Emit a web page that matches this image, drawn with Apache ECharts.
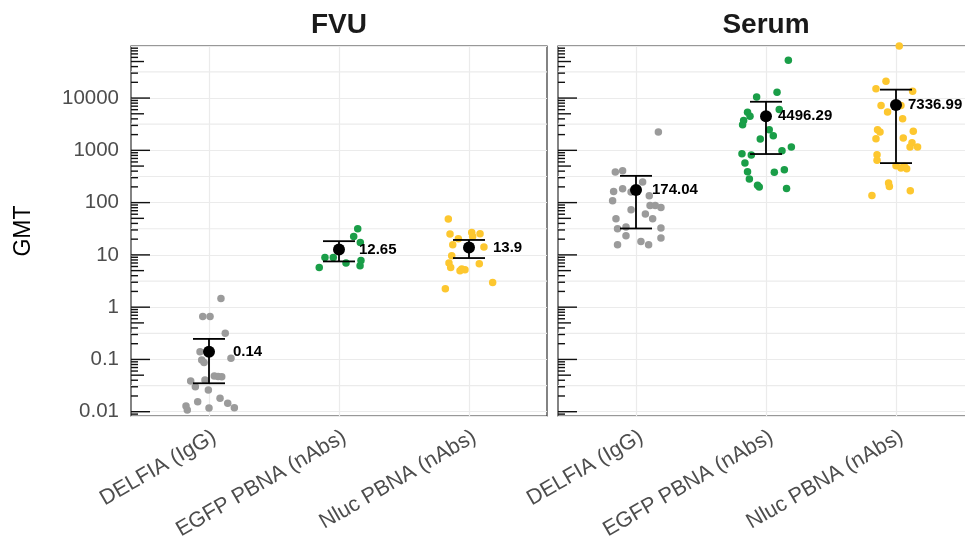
<!DOCTYPE html>
<html><head><meta charset="utf-8">
<script src="https://cdn.jsdelivr.net/npm/echarts@6/dist/echarts.min.js"></script>
<style>html,body{margin:0;padding:0;background:#fff}#c{width:965px;height:537px}</style>
</head><body><div id="c"></div>
<script>
// ---------- data ----------
const categories = ['DELFIA (IgG)', 'EGFP PBNA (nAbs)', 'Nluc PBNA (nAbs)'];
const panelNames = ['FVU', 'Serum'];
const yTickLabels = ['0.01', '0.1', '1', '10', '100', '1000', '10000'];

// FVU individual values and horizontal jitter (category units)
const fvuDelfia = [1.46,0.66,0.66,0.318,0.141,0.098,0.087,0.105,0.0387,0.0405,0.0483,0.0468,0.047,0.0301,0.0261,0.0181,0.0155,0.0129,0.0108,0.0118,0.0145,0.0119];
const fvuDelfiaJitter = [0.092,-0.048,0.008,0.125,-0.069,-0.056,-0.038,0.169,-0.141,-0.031,0.041,0.098,0.07,-0.105,-0.005,0.085,-0.087,-0.177,-0.167,0,0.144,0.195];
const fvuEgfp = [31.6,22.5,17.3,8.9,8.9,6.97,7.8,6.18,5.74];
const fvuEgfpJitter = [0.144,0.113,0.164,-0.108,-0.044,0.054,0.169,0.162,-0.152];
const fvuNluc = [48.5,25.0,20.3,26.9,25.4,22.5,15.6,14.1,9.6,6.97,5.74,4.96,5.18,5.35,6.76,2.96,2.24];
const fvuNlucJitter = [-0.159,-0.146,-0.082,0.021,0.085,0.028,-0.125,0.115,-0.133,-0.154,-0.141,-0.069,-0.031,-0.056,0.079,0.182,-0.182];

// Serum individual values and jitter
const serumDelfia = [2250,386,408,248,185,164,160,136,109,88.4,88.4,80.9,73.1,60.5,49.2,49.2,31.6,34.1,32.6,23.2,21.0,15.6,18.1,15.6];
const serumDelfiaJitter = [0.172,-0.159,-0.103,0.051,-0.103,-0.172,-0.038,0.102,-0.18,0.108,0.148,0.192,-0.038,0.072,-0.154,0.128,-0.142,-0.077,0.192,-0.077,0.192,-0.142,0.038,0.097];
const serumEgfp = [53000,12900,10500,5350,4480,6020,3710,3100,2490,1910,1650,986,1160,865,810,574,427,379,391,283,214,199,187];
const serumEgfpJitter = [0.172,0.085,-0.072,-0.142,-0.123,0.102,-0.172,-0.18,0.025,0.056,-0.044,0.123,0.195,-0.185,-0.113,-0.162,0.141,0.064,-0.142,-0.128,-0.065,-0.052,0.158];
const serumNluc = [99000,21000,15000,13500,7180,5440,7200,4000,2490,2250,2310,1675,1730,1390,1160,1160,827,643,509,460,446,494,237,204,169,137];
const serumNlucJitter = [0.025,-0.077,-0.154,0.128,-0.115,-0.065,0.038,0.051,-0.142,-0.123,0.133,-0.154,0.056,0.123,0.108,0.166,-0.146,-0.146,0,0.038,0.082,0.064,-0.057,-0.051,0.11,-0.185];

// summary: GMT and error bar limits
const fvuGmt = [0.14, 12.65, 13.9];
const fvuLower = [0.035, 7.5, 8.7];
const fvuUpper = [0.247, 18.3, 19.3];
const serumGmt = [174.04, 4496.29, 7336.99];
const serumLower = [32, 850, 570];
const serumUpper = [325, 8500, 14500];

// ---------- style / layout ----------
const FONT = '"Liberation Sans", Arial, Helvetica, sans-serif';
const groupColors = ['#9b9b9b', '#1a9e48', '#fdc72f'];
const xMin = -0.6, xMax = 2.6;
const yMin = 0.00828, yMax = 99080;
const panelLeft = [131, 558];
const panelW = 416, panelTop = 46, panelH = 370;
const labelGap = [[18, 14, 18], [10, 6, 6]];

const panels = [
  { values: [fvuDelfia, fvuEgfp, fvuNluc], jitter: [fvuDelfiaJitter, fvuEgfpJitter, fvuNlucJitter], gmt: fvuGmt, lo: fvuLower, hi: fvuUpper },
  { values: [serumDelfia, serumEgfp, serumNluc], jitter: [serumDelfiaJitter, serumEgfpJitter, serumNlucJitter], gmt: serumGmt, lo: serumLower, hi: serumUpper }
];

// log-tick decoration (annotation_logticks) + half-decade minor gridlines
function decorData() {
  const d = [];
  for (let e = -3; e <= 4; e++) {
    const g = Math.pow(10, e + 0.5);
    if (g > yMin && g < yMax) d.push([xMin, g, 0]);
  }
  for (let e = -3; e <= 5; e++) {
    for (let k = 1; k <= 9; k++) {
      const v = k * Math.pow(10, e);
      if (v >= yMin && v <= yMax) d.push([xMin, v, k === 1 ? 3 : (k === 5 ? 2 : 1)]);
    }
  }
  return d;
}
function renderDecor(params, api) {
  const v = api.value(1), kind = api.value(2);
  const p = api.coord([xMin, v]);
  if (kind === 0) {
    const q = api.coord([xMax, v]);
    return { type: 'line', shape: { x1: p[0], y1: p[1], x2: q[0], y2: q[1] }, style: { stroke: '#ebebeb', lineWidth: 1.2 } };
  }
  const len = kind === 3 ? 19 : (kind === 2 ? 13 : 7);
  return { type: 'line', shape: { x1: p[0], y1: p[1], x2: p[0] + len, y2: p[1] }, style: { stroke: '#111', lineWidth: 1.4 } };
}
function renderErr(params, api) {
  const x = api.value(0), lo = api.value(1), hi = api.value(2);
  const pH = api.coord([x, hi]), pL = api.coord([x, lo]);
  const half = 16;
  const st = { stroke: '#000', lineWidth: 1.8 };
  return { type: 'group', children: [
    { type: 'line', shape: { x1: pH[0], y1: pH[1], x2: pL[0], y2: pL[1] }, style: st },
    { type: 'line', shape: { x1: pH[0] - half, y1: pH[1], x2: pH[0] + half, y2: pH[1] }, style: st },
    { type: 'line', shape: { x1: pL[0] - half, y1: pL[1], x2: pL[0] + half, y2: pL[1] }, style: st }
  ]};
}
function fmtY(v) {
  const s = String(parseFloat(Number(v).toPrecision(3)));
  return yTickLabels.indexOf(s) >= 0 ? s : '';
}

const grid = [], xAxis = [], yAxis = [], series = [], title = [];
panels.forEach((pn, i) => {
  grid.push({ left: panelLeft[i], top: panelTop, width: panelW, height: panelH, outerBoundsMode: 'none', containLabel: false,
    show: true, borderColor: '#333', borderWidth: 1.2, backgroundColor: 'transparent' });
  title.push({ text: panelNames[i], left: panelLeft[i] + panelW / 2, top: 11, textAlign: 'center', padding: 0,
    textStyle: { fontSize: 28, fontWeight: 'bold', color: '#1a1a1a', fontFamily: FONT } });
  xAxis.push({ type: 'value', gridIndex: i, min: xMin, max: xMax,
    axisLine: { show: false }, axisTick: { show: false, customValues: [0, 1, 2] },
    axisLabel: { customValues: [0, 1, 2], formatter: v => categories[Math.round(v)], rotate: 30, align: 'right', verticalAlign: 'top',
      margin: 10, color: '#4d4d4d', fontSize: 21.5, fontFamily: FONT },
    splitLine: { show: true, lineStyle: { color: '#ebebeb', width: 1.2 } } });
  yAxis.push({ type: 'log', logBase: 10, gridIndex: i, min: yMin, max: yMax,
    axisLine: { show: false }, axisTick: { show: false },
    axisLabel: { show: i === 0, showMinLabel: false, showMaxLabel: false, formatter: fmtY, margin: 12, color: '#4d4d4d', fontSize: 20.5, fontFamily: FONT },
    splitLine: { show: true, lineStyle: { color: '#ebebeb', width: 1.2 } },
    name: i === 0 ? 'GMT' : '', nameLocation: 'middle', nameGap: 96,
    nameTextStyle: { fontSize: 23, color: '#000', fontFamily: FONT } });
  series.push({ type: 'custom', xAxisIndex: i, yAxisIndex: i, z: 1, silent: true, renderItem: renderDecor,
    encode: { x: 0, y: 1 }, data: decorData() });
  pn.values.forEach((vals, c) => {
    series.push({ type: 'scatter', xAxisIndex: i, yAxisIndex: i, z: 2, symbolSize: 7.5,
      itemStyle: { color: groupColors[c], opacity: 1 },
      data: vals.map((v, k) => [c + pn.jitter[c][k], v]) });
  });
  series.push({ type: 'custom', xAxisIndex: i, yAxisIndex: i, z: 3, renderItem: renderErr,
    encode: { x: 0, y: [1, 2] }, data: pn.gmt.map((g, c) => [c, pn.lo[c], pn.hi[c]]) });
  series.push({ type: 'scatter', xAxisIndex: i, yAxisIndex: i, z: 4, symbolSize: 12,
    itemStyle: { color: '#000', opacity: 1 },
    label: { show: true, position: 'right', formatter: p => String(p.value[1]),
      fontSize: 15, fontWeight: 'bold', color: '#000', fontFamily: FONT },
    data: pn.gmt.map((g, c) => ({ value: [c, g], label: { distance: labelGap[i][c] } })) });
});

const chart = echarts.init(document.getElementById('c'), null, { renderer: 'canvas' });
chart.setOption({ animation: false, backgroundColor: '#fff', title, grid, xAxis, yAxis, series });
</script></body></html>
